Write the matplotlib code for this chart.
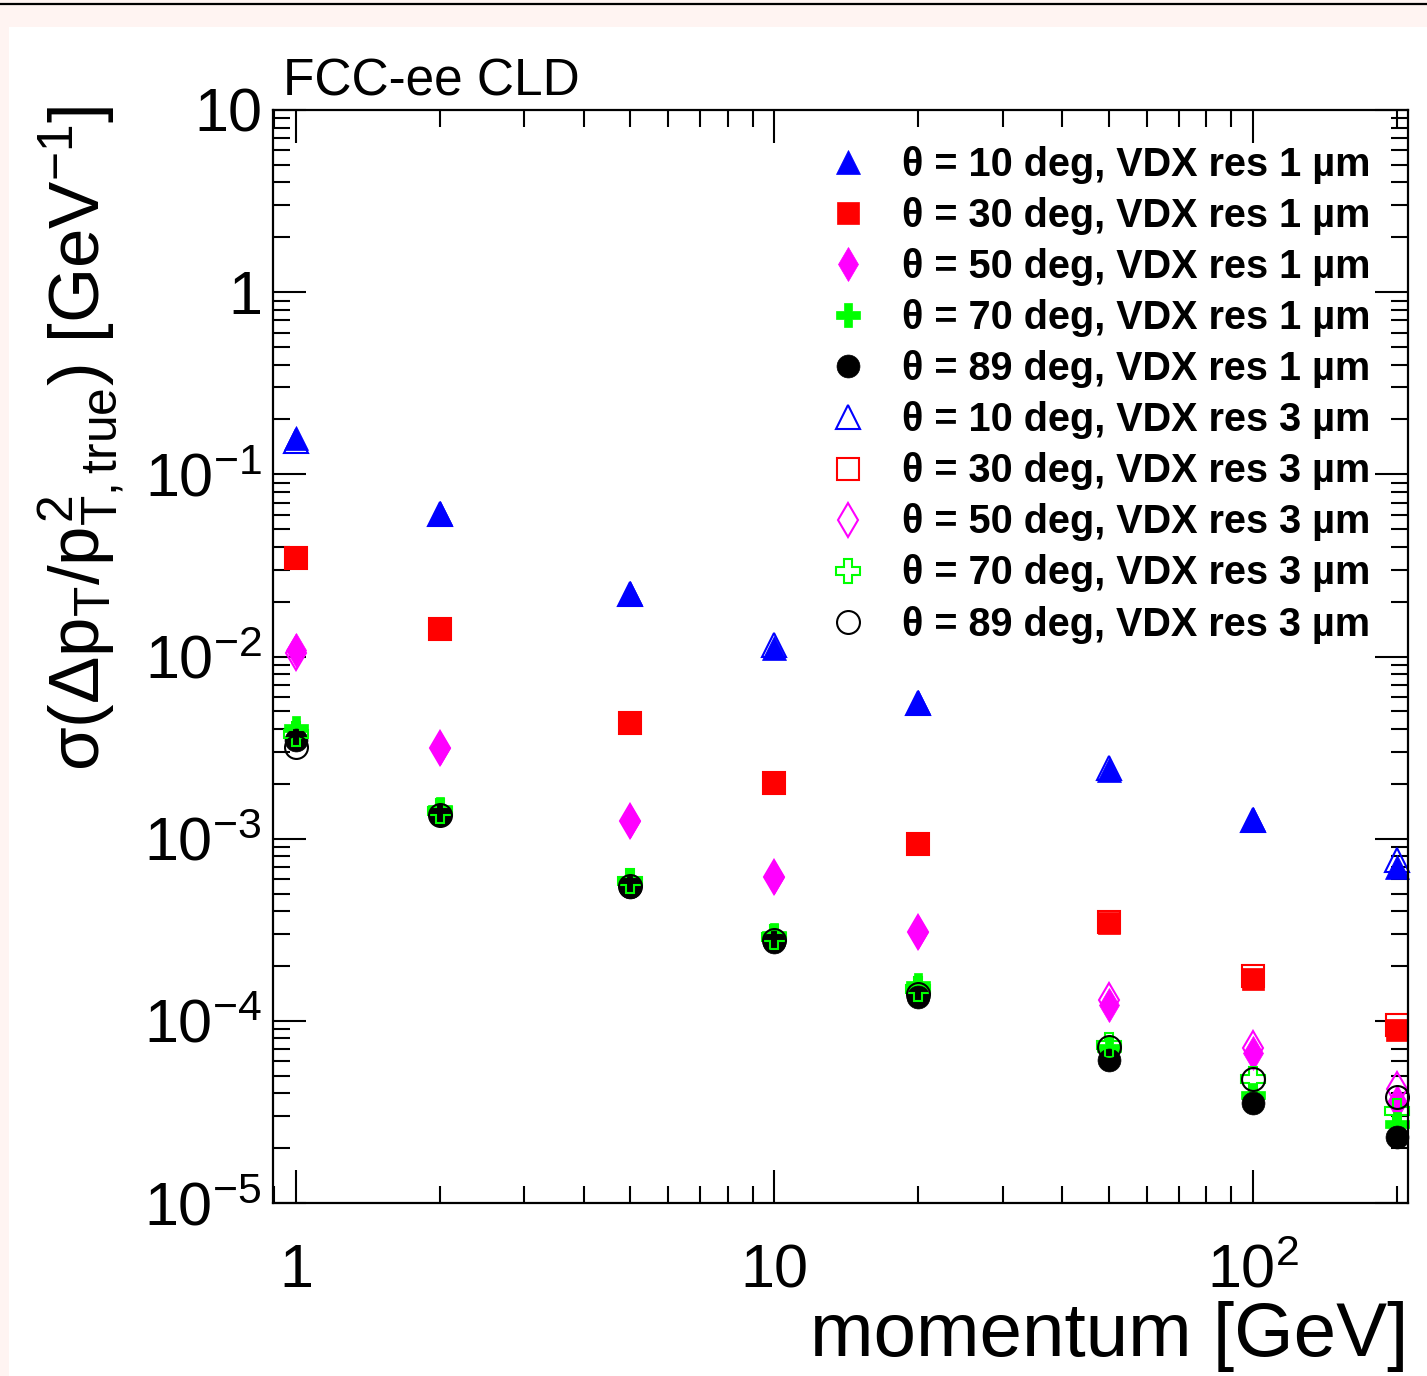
import matplotlib
matplotlib.use('Agg')
import matplotlib.pyplot as plt
from matplotlib.patches import Rectangle
from matplotlib.lines import Line2D
from matplotlib.ticker import FixedLocator, FixedFormatter, LogLocator, NullFormatter

# data
momentum = [1, 2, 5, 10, 20, 50, 100, 200]

res1_th10 = [0.158, 0.0614, 0.0223, 0.0112, 0.00563, 0.00239, 0.00129, 0.000700]
res1_th30 = [0.0352, 0.0142, 0.00432, 0.00203, 0.000937, 0.000345, 0.000170, 8.9e-5]
res1_th50 = [0.0109, 0.00315, 0.00125, 0.000617, 0.000308, 0.000122, 6.67e-5, 3.6e-5]
res1_th70 = [0.00406, 0.00146, 0.000594, 0.000296, 0.000158, 7.1e-5, 3.9e-5, 2.7e-5]
res1_th89 = [0.00349, 0.00135, 0.000544, 0.000271, 0.000135, 6.1e-5, 3.55e-5, 2.31e-5]

res3_th10 = [0.153, 0.0607, 0.0221, 0.0116, 0.00556, 0.00245, 0.00126, 0.000765]
res3_th30 = [0.0346, 0.0142, 0.00432, 0.00203, 0.000937, 0.000349, 0.000177, 9.5e-5]
res3_th50 = [0.0104, 0.00315, 0.00125, 0.000617, 0.000308, 0.000130, 7.1e-5, 4.2e-5]
res3_th70 = [0.00375, 0.00141, 0.000585, 0.000290, 0.000150, 7.4e-5, 4.8e-5, 3.2e-5]
res3_th89 = [0.00319, 0.00135, 0.000550, 0.000278, 0.000141, 7.2e-5, 4.8e-5, 3.83e-5]

angles = [10, 30, 50, 70, 89]
colors = ['#0000ff', '#ff0000', '#ff00ff', '#00ff00', '#000000']
markers = ['^', 's', 'd', 'P', 'o']
sizes = [17, 16.5, 17.5, 17, 16.5]

xtick_vals = [1, 10, 100]
xtick_labels = ['1', '10', r'$10^{2}$']
ytick_vals = [1e-5, 1e-4, 1e-3, 1e-2, 1e-1, 1, 10]
ytick_labels = [r'$10^{-5}$', r'$10^{-4}$', r'$10^{-3}$', r'$10^{-2}$', r'$10^{-1}$', '1', '10']

plt.rcParams['font.family'] = ['Liberation Sans', 'DejaVu Sans']
plt.rcParams['mathtext.fontset'] = 'custom'
plt.rcParams['mathtext.rm'] = 'Liberation Sans'
plt.rcParams['mathtext.it'] = 'Liberation Sans'
plt.rcParams['mathtext.sf'] = 'Liberation Sans'
plt.rcParams['mathtext.bf'] = 'Liberation Sans:bold'

W, H = 1427, 1376
fig = plt.figure(figsize=(W / 100, H / 100), dpi=100, facecolor='#fff4f2')
fig.add_artist(Rectangle((9 / W, 0), 1 - 9 / W, 1 - 27 / H, transform=fig.transFigure,
                         facecolor='white', edgecolor='none', zorder=-5))
fig.add_artist(Line2D([0, 1], [1 - 3.5 / H, 1 - 3.5 / H], transform=fig.transFigure,
                      color='black', lw=1.6))

ax = fig.add_axes([273 / W, 1 - 1203 / H, 1135 / W, 1093 / H])

series1 = [res1_th10, res1_th30, res1_th50, res1_th70, res1_th89]
series3 = [res3_th10, res3_th30, res3_th50, res3_th70, res3_th89]

for ang, vals, c, m, ms in zip(angles, series1, colors, markers, sizes):
    ax.plot(momentum, vals, linestyle='none', marker=m, ms=ms, color=c,
            mec=c, mew=0.5, clip_on=False,
            label='\u03b8 = %d deg, VDX res 1 \u00b5m' % ang)
for ang, vals, c, m, ms in zip(angles, series3, colors, markers, sizes):
    ax.plot(momentum, vals, linestyle='none', marker=m, ms=ms, color=c,
            mfc='none', mec=c, mew=1.5, clip_on=False,
            label='\u03b8 = %d deg, VDX res 3 \u00b5m' % ang)

ax.set_xscale('log')
ax.set_yscale('log')
ax.set_xlim(0.895, 211)
ax.set_ylim(1e-5, 10)

ax.xaxis.set_major_locator(FixedLocator(xtick_vals))
ax.xaxis.set_major_formatter(FixedFormatter(xtick_labels))
ax.yaxis.set_major_locator(FixedLocator(ytick_vals))
ax.yaxis.set_major_formatter(FixedFormatter(ytick_labels))
ax.xaxis.set_minor_locator(LogLocator(base=10, subs=range(2, 10), numticks=20))
ax.yaxis.set_minor_locator(LogLocator(base=10, subs=range(2, 10), numticks=20))
ax.xaxis.set_minor_formatter(NullFormatter())
ax.yaxis.set_minor_formatter(NullFormatter())

ax.tick_params(which='both', direction='in', top=True, right=True, width=1.5, labelsize=44)
ax.tick_params(which='major', length=24)
ax.tick_params(which='minor', length=12)
ax.tick_params(axis='y', pad=8)
ax.tick_params(axis='x', pad=29)
for s in ax.spines.values():
    s.set_linewidth(1.6)

leg = ax.legend(loc='upper left', bbox_to_anchor=(828 / W, 1 - 146 / H),
                bbox_transform=fig.transFigure, frameon=False,
                prop={'weight': 'bold', 'size': 28.5}, handlelength=1.0,
                handletextpad=0.87, labelspacing=0.33, borderpad=0,
                borderaxespad=0, numpoints=1)

fig.text(283 / W, 1 - 96 / H, 'FCC-ee CLD', fontsize=37, va='baseline', ha='left')
fig.text(1408 / W, 1 - 1372 / H, 'momentum [GeV]', fontsize=55, ha='right', va='bottom')
fig.text(128 / W, 1 - 105 / H,
         r'$\sigma(\Delta p_{T}/p^{2}_{T,true}$) [GeV$^{-1}$]',
         fontsize=51, rotation=90, ha='right', va='top')

fig.savefig('out.png', dpi=100, facecolor=fig.get_facecolor())
